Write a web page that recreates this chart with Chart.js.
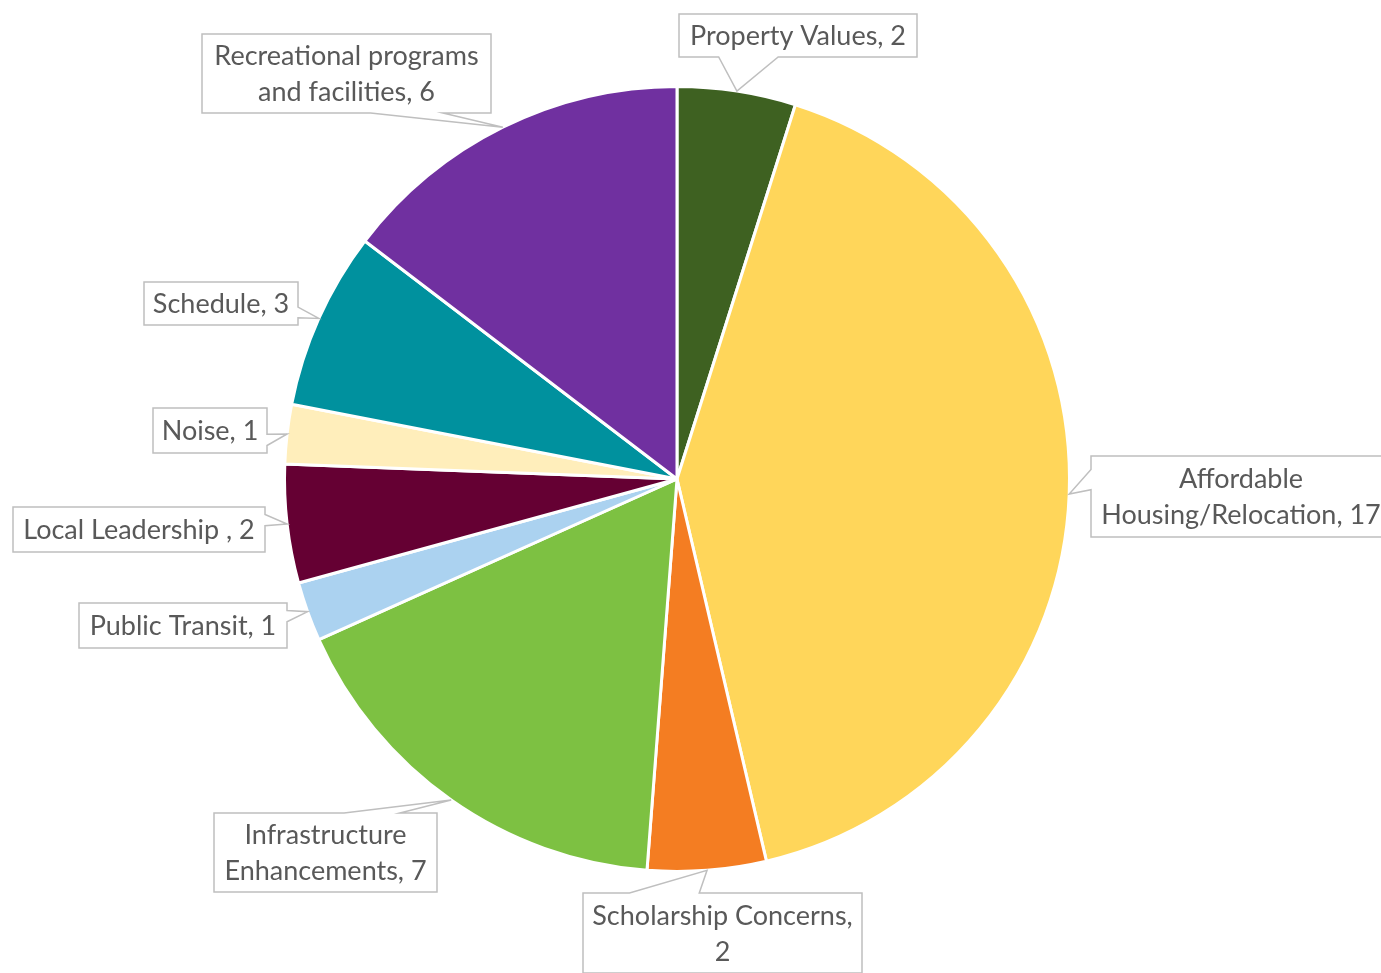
<!DOCTYPE html>
<html>
<head>
<meta charset="utf-8">
<script src="https://cdn.jsdelivr.net/npm/chart.js@4/dist/chart.umd.min.js"></script>
<style>
  html, body { margin: 0; padding: 0; background: #fff; }
  #wrap { width: 1381px; height: 973px; }
</style>
</head>
<body>
<div id="wrap"><canvas id="pie" width="1381" height="973"></canvas></div>
<script>
// data (clockwise from 12 o'clock)
var categories = [
    'Property Values',
    'Affordable Housing/Relocation',
    'Scholarship Concerns',
    'Infrastructure Enhancements',
    'Public Transit',
    'Local Leadership ',
    'Noise',
    'Schedule',
    'Recreational programs and facilities'
];
var counts = [2, 17, 2, 7, 1, 2, 1, 3, 6];
var sliceColors = ['#3E6121', '#FFD65A', '#F47D22', '#7DC142', '#ABD2F0', '#650033', '#FFEEBB', '#00919E', '#7030A0'];

// callout boxes (x, y, w, h) in canvas pixels
var boxes = [
    [679, 14, 238, 43],
    [1091, 456, 300, 81],
    [583, 893, 279, 80],
    [214, 813, 223, 79],
    [79, 603, 208, 45],
    [13, 507, 252, 45],
    [153, 408, 114, 45],
    [144, 282, 154, 43],
    [202, 34, 289, 79]
];

var FONT_SIZE = 27;
var LINE_H = 36;

function wrapText(ctx, text, maxW) {
    var words = text.split(' ');
    var lines = [];
    var cur = '';
    words.forEach(function(w) {
        var test = cur ? cur + ' ' + w : w;
        if (cur && ctx.measureText(test).width > maxW) {
            lines.push(cur);
            cur = w;
        } else {
            cur = test;
        }
    });
    if (cur) lines.push(cur);
    return lines;
}

// rectangular callout with a wedge pointer, same rule as Excel's wedgeRectCallout
function drawCallout(ctx, b, tx, ty) {
    var x = b[0], y = b[1], w = b[2], h = b[3];
    var r = x + w, btm = y + h;
    var dx = tx - (x + w / 2), dy = ty - (y + h / 2);
    var side = Math.abs(dx) / w > Math.abs(dy) / h;   // true -> left/right
    var x1 = x + w * (dx > 0 ? 7 : 2) / 12, x2 = x + w * (dx > 0 ? 10 : 5) / 12;
    var y1 = y + h * (dy > 0 ? 7 : 2) / 12, y2 = y + h * (dy > 0 ? 10 : 5) / 12;

    ctx.beginPath();
    ctx.moveTo(x, y);
    if (!side && dy < 0) { ctx.lineTo(x1, y); ctx.lineTo(tx, ty); ctx.lineTo(x2, y); }
    ctx.lineTo(r, y);
    if (side && dx > 0) { ctx.lineTo(r, y1); ctx.lineTo(tx, ty); ctx.lineTo(r, y2); }
    ctx.lineTo(r, btm);
    if (!side && dy > 0) { ctx.lineTo(x2, btm); ctx.lineTo(tx, ty); ctx.lineTo(x1, btm); }
    ctx.lineTo(x, btm);
    if (side && dx < 0) { ctx.lineTo(x, y2); ctx.lineTo(tx, ty); ctx.lineTo(x, y1); }
    ctx.closePath();
    ctx.fillStyle = '#ffffff';
    ctx.fill();
    ctx.strokeStyle = '#BFBFBF';
    ctx.lineWidth = 1.5;
    ctx.stroke();
}

var calloutPlugin = {
    id: 'callouts',
    afterDraw: function(chart) {
        var ctx = chart.ctx;
        var meta = chart.getDatasetMeta(0);
        ctx.save();
        ctx.font = FONT_SIZE + 'px Lato';
        ctx.textAlign = 'center';
        ctx.textBaseline = 'middle';
        meta.data.forEach(function(arc, i) {
            var p = arc.getProps(['x', 'y', 'startAngle', 'endAngle', 'outerRadius'], true);
            var mid = (p.startAngle + p.endAngle) / 2;
            var tx = p.x + Math.cos(mid) * p.outerRadius;
            var ty = p.y + Math.sin(mid) * p.outerRadius;
            var b = boxes[i];
            drawCallout(ctx, b, tx, ty);

            var label = chart.data.labels[i] + ', ' + chart.data.datasets[0].data[i];
            var lines = wrapText(ctx, label, b[2] - 10);
            var cx = b[0] + b[2] / 2;
            var cy = b[1] + b[3] / 2 + 1 - (lines.length - 1) * LINE_H / 2;
            ctx.fillStyle = '#595959';
            lines.forEach(function(t, k) {
                ctx.fillText(t, cx, cy + k * LINE_H);
            });
        });
        ctx.restore();
    }
};

new Chart(document.getElementById('pie'), {
    type: 'pie',
    data: {
        labels: categories,
        datasets: [{
            data: counts,
            backgroundColor: sliceColors,
            borderColor: '#ffffff',
            borderWidth: 3,
            hoverOffset: 0
        }]
    },
    options: {
        responsive: false,
        animation: false,
        layout: {
            padding: { left: 283, right: 310, top: 85, bottom: 100 }
        },
        plugins: {
            legend: { display: false },
            tooltip: { enabled: false }
        }
    },
    plugins: [calloutPlugin]
});
</script>
</body>
</html>
